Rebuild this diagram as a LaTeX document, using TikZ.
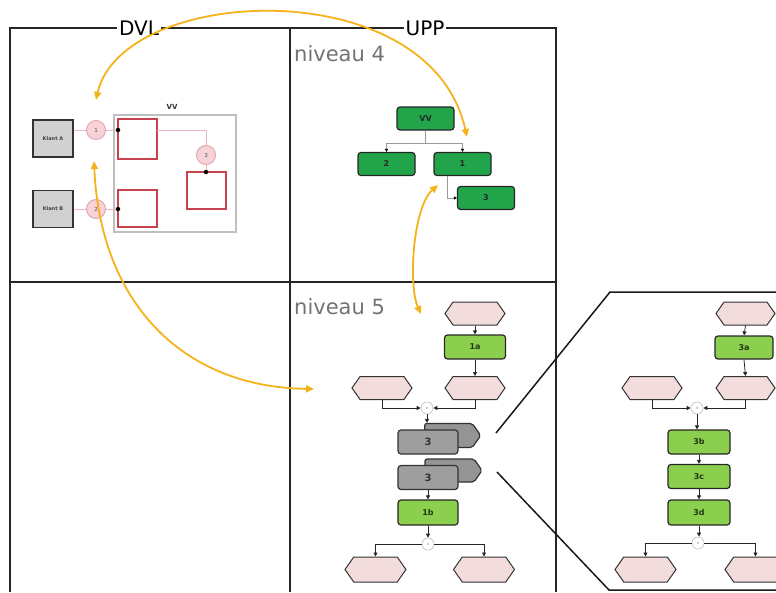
\documentclass[tikz,border=0pt]{standalone}
\usepackage{fontspec}
\setmainfont{DejaVu Sans}
\usetikzlibrary{shapes.symbols,arrows.meta}
\definecolor{dkgreen}{HTML}{22A54A}
\definecolor{ltgreen}{HTML}{8CCF4E}
\definecolor{txtgreen}{HTML}{1E3A10}
\definecolor{hexpink}{HTML}{F2DCDC}
\definecolor{yel}{HTML}{F5B21B}
\definecolor{pinkfill}{HTML}{F5D3D7}
\definecolor{pinkdraw}{HTML}{E2A7AE}
\definecolor{redbox}{HTML}{C8414E}
\definecolor{pinkline}{HTML}{E8B8BC}
\tikzset{
 gridline/.style={line width=1.6pt, draw=black!85},
 headlbl/.style={font=\fontsize{20}{22}\selectfont, fill=white, inner sep=2pt},
 niv/.style={font=\fontsize{21}{24}\selectfont, text=black!55, anchor=base west, inner sep=0},
 dgreen/.style={draw=black!85, line width=1.2pt, fill=dkgreen, rounded corners=3pt, minimum width=57pt, minimum height=23pt, inner sep=0, font=\bfseries\fontsize{8}{9}\selectfont, text=black!85},
 lgreen/.style={dgreen, fill=ltgreen, minimum width=61pt, minimum height=24pt, text=txtgreen},
 hexa/.style={shape=signal, signal to=east and west, signal pointer angle=110, draw=black!80, line width=1pt, fill=hexpink, minimum width=60pt, minimum height=23pt, inner sep=0},
 gbox/.style={draw=black!80, line width=1.2pt, fill=black!38, rounded corners=3pt, minimum width=60pt, minimum height=24pt, inner sep=0, font=\bfseries\fontsize{10}{11}\selectfont, text=black!80},
 gback/.style={shape=signal, signal to=east, signal pointer angle=110, draw=black!80, line width=1.2pt, fill=black!42, rounded corners=2pt, minimum width=56pt, minimum height=24pt, inner sep=0},
 junc/.style={circle, draw=black!25, fill=white, minimum size=12pt, inner sep=0, line width=0.6pt, font=\fontsize{4}{4}\selectfont, text=black!50},
 flow/.style={-{Triangle[length=4pt,width=4pt]}, line width=0.8pt, draw=black!85},
 tflow/.style={-{Triangle[length=3pt,width=3pt,black]}, line width=0.6pt, draw=black!40},
 yarrow/.style={draw=yel, line width=1.8pt, {Triangle[length=8pt,width=7pt]}-{Triangle[length=8pt,width=7pt]}},
 klant/.style={draw=black!80, line width=1.2pt, fill=black!18, minimum width=40pt, minimum height=37pt, inner sep=0, font=\bfseries\fontsize{5}{6}\selectfont, text=black!75},
 pcirc/.style={circle, draw=pinkdraw, line width=1pt, fill=pinkfill, minimum size=19pt, inner sep=0, font=\fontsize{5.5}{6}\selectfont, text=black!70},
 rbox/.style={draw=redbox, line width=1.2pt, fill=white, inner sep=0},
 pline/.style={draw=pinkline, line width=0.8pt},
 jdot/.style={circle, fill=black, minimum size=4.5pt, inner sep=0},
 panel/.style={line width=1.5pt, draw=black!90}
}
\begin{document}
\begin{tikzpicture}[x=1pt,y=-1pt]
\useasboundingbox (0,0) rectangle (776,592);
% grid
\draw[gridline] (10,592) -- (10,28) -- (556,28) -- (556,592);
\draw[gridline] (290,28) -- (290,592);
\draw[gridline] (10,282) -- (556,282);
\node[headlbl] (dvl) at (139,28) {DVL};
\node[headlbl] (upp) at (425,28) {UPP};
\node[niv] (niv4) at (294,61) {niveau 4};
\node[niv] (niv5) at (294,314) {niveau 5};

% ---------- DVL panel ----------
\node[draw=black!25, line width=1.5pt, minimum width=122pt, minimum height=117pt, inner sep=0] (vvbox) at (175,173.5) {};
\node[font=\bfseries\fontsize{7}{8}\selectfont, text=black!80] (vvlbl) at (172,107) {VV};
\node[klant] (ka) at (53,138.5) {Klant A};
\node[klant] (kb) at (53,209) {Klant B};
\node[rbox, minimum width=39pt, minimum height=40pt] (r1) at (137.5,139) {};
\node[rbox, minimum width=39pt, minimum height=37pt] (r2) at (137.5,208.5) {};
\node[rbox, minimum width=39pt, minimum height=37pt] (r3) at (206.5,190.5) {};
\coordinate (d1) at (118,130);
\coordinate (d2) at (118,209);
\coordinate (d3) at (206,172);
\coordinate (r1o) at (157,130);
\node[pcirc] (c1) at (96,130) {1};
\node[pcirc] (c2) at (96,209) {2};
\node[pcirc] (c3) at (206,155) {3};
\draw[pline] (ka.east |- c1) -- (c1.west);
\draw[pline] (c1.east) -- (d1);
\draw[pline] (kb.east |- c2) -- (c2.west);
\draw[pline] (c2.east) -- (d2);
\draw[pline] (r1o) -| (c3.north);
\draw[pline] (c3.south) -- (d3);
\node[jdot] (j1) at (d1) {};
\node[jdot] (j2) at (d2) {};
\node[jdot] (j3) at (d3) {};

% ---------- niveau 4 ----------
\node[dgreen] (t4vv) at (425.5,118.5) {VV};
\node[dgreen] (t42) at (386.5,164) {2};
\node[dgreen] (t41) at (462.5,164) {1};
\node[dgreen] (t43) at (486,198) {3};
\coordinate (t4br) at (425.5,143);
\draw[line width=0.6pt, draw=black!40] (t4vv.south) -- (t4br);
\draw[tflow] (t4br) -| (t42.north);
\draw[tflow] (t4br) -| (t41.north);
\draw[tflow] ([xshift=-15pt]t41.south) |- (t43.west);

% ---------- niveau 5 ----------
\node[hexa] (h5top) at (475,313.5) {};
\node[lgreen] (n1a) at (475,347) {1a};
\node[hexa] (h5r) at (475,388) {};
\node[hexa] (h5l) at (382,388) {};
\node[junc] (m5) at (427,408) {×};
\node[gback] (g1b) at (448.5,435.5) {};
\node[gbox] (g1) at (428,442) {3};
\node[gback, minimum height=23pt, minimum width=57pt] (g2b) at (449.5,470.5) {};
\node[gbox] (g2) at (428,477.5) {3};
\node[lgreen, minimum width=60pt, minimum height=25pt] (n1b) at (428,512.5) {1b};
\node[junc] (s5) at (428,544) {v};
\node[hexa, minimum width=61pt, minimum height=25pt] (h5bl) at (375.5,569.5) {};
\node[hexa, minimum width=61pt, minimum height=25pt] (h5br) at (484,569.5) {};
\draw[flow] (h5top.south) -- (n1a.north);
\draw[flow] (n1a.south) -- (h5r.north);
\draw[flow] (h5l.south) |- (m5.west);
\draw[flow] (h5r.south) |- (m5.east);
\draw[flow] (m5.south) -- (m5.south |- g1b.north);
\draw[flow] (g2.south) -- (n1b.north);
\draw[flow] (n1b.south) -- (s5.north);
\draw[flow] (s5.west) -| (h5bl.north);
\draw[flow] (s5.east) -| (h5br.north);

% ---------- zoom panel ----------
\coordinate (pa) at (496,433);
\coordinate (pb) at (610,292);
\coordinate (pc) at (780,292);
\coordinate (pd) at (497,472);
\coordinate (pe) at (609,590);
\coordinate (pf) at (780,590);
\draw[panel] (pa) -- (pb) -- (pc);
\draw[panel] (pd) -- (pe) -- (pf);
\node[hexa, minimum width=59pt] (h6top) at (745.5,313.5) {};
\node[lgreen, minimum width=58pt, minimum height=23pt] (n3a) at (744,347.5) {3a};
\node[hexa, minimum width=59pt] (h6r) at (745.5,388) {};
\node[hexa] (h6l) at (652,388) {};
\node[junc] (m6) at (697,408) {×};
\node[lgreen, minimum width=62pt] (n3b) at (699,442) {3b};
\node[lgreen, minimum width=62pt] (n3c) at (699,476.5) {3c};
\node[lgreen, minimum width=62pt, minimum height=25pt] (n3d) at (699,512.5) {3d};
\node[junc] (s6) at (698,543) {v};
\node[hexa, minimum width=61pt, minimum height=25pt] (h6bl) at (645.5,569.5) {};
\node[hexa, minimum width=61pt, minimum height=25pt] (h6br) at (755.5,569.5) {};
\draw[flow] (h6top.south) -- (n3a.north);
\draw[flow] (n3a.south) -- (h6r.north);
\draw[flow] (h6l.south) |- (m6.west);
\draw[flow] (h6r.south) |- (m6.east);
\draw[flow] (m6.south) -- (m6.south |- n3b.north);
\draw[flow] (n3b.south) -- (n3b.south |- n3c.north);
\draw[flow] (n3c.south) -- (n3c.south |- n3d.north);
\draw[flow] (n3d.south) -- (n3d.south |- s6.north);
\draw[flow] (s6.west) -| (h6bl.north);
\draw[flow] (s6.east) -| (h6br.north);

% ---------- yellow arrows ----------
\coordinate (ya1) at (96,100);
\coordinate (ya2) at (467,137);
\coordinate (yb1) at (94,161);
\coordinate (yb2) at (314,389);
\coordinate (yc1) at (438,185);
\coordinate (yc2) at (421,314);
\draw[yarrow] (ya1) .. controls (122,-15) and (430,-30) .. (ya2);
\draw[yarrow] (yb1) .. controls (100,300) and (180,387) .. (yb2);
\draw[yarrow] (yc1) .. controls (413,207) and (408,285) .. (yc2);
\end{tikzpicture}
\end{document}
